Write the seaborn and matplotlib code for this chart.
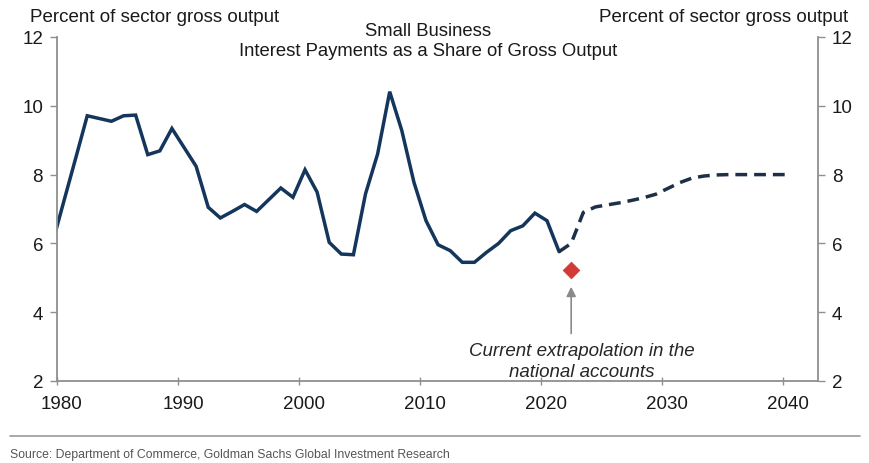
import matplotlib
matplotlib.use("Agg")
import matplotlib.pyplot as plt
from matplotlib.lines import Line2D
from matplotlib.transforms import ScaledTranslation
import seaborn as sns
import pandas as pd

sns.set_style("white")
plt.rcParams["font.family"] = ["Liberation Sans", "DejaVu Sans"]

# ---- data (annual, plotted at mid-year) ----
hist_years = list(range(1979, 2022))
hist_values = [5.85, 7.14, 8.42, 9.71, 9.63, 9.55, 9.71, 9.73, 8.58, 8.69,
               9.34, 8.79, 8.24, 7.05, 6.74, 6.93, 7.13, 6.93, 7.27, 7.61,
               7.34, 8.14, 7.49, 6.03, 5.69, 5.67, 7.44, 8.60, 10.41, 9.28,
               7.78, 6.66, 5.96, 5.79, 5.45, 5.45, 5.74, 6.00, 6.37, 6.51,
               6.88, 6.66, 5.76]
proj_years = list(range(2021, 2041))
proj_values = [5.76, 6.00, 6.90, 7.06, 7.12, 7.18, 7.25, 7.33, 7.43, 7.60,
               7.77, 7.90, 7.96, 7.99, 8.00, 8.00, 8.00, 8.00, 8.00, 8.00]
nipa_years = [2022]
nipa_values = [5.24]

x_ticks = [1980, 1990, 2000, 2010, 2020, 2030, 2040]
y_ticks = [2, 4, 6, 8, 10, 12]

title_lines = ["Small Business", "Interest Payments as a Share of Gross Output"]
axis_label = "Percent of sector gross output"
annotation = "Current extrapolation in the\nnational accounts"
source = "Source: Department of Commerce, Goldman Sachs Global Investment Research"

NAVY = "#15365c"
DASH = "#1e3048"
RED = "#d23a36"
GRAY = "#8f8f8f"

W, H = 869, 464
fig = plt.figure(figsize=(W / 100, H / 100), dpi=100)
L, R, T, B = 57, 818, 38, 382
ax = fig.add_axes([L / W, 1 - B / H, (R - L) / W, (B - T) / H])

df_hist = pd.DataFrame({"year": [y + 0.5 for y in hist_years], "value": hist_values})
df_proj = pd.DataFrame({"year": [y + 0.5 for y in proj_years], "value": proj_values})
df_nipa = pd.DataFrame({"year": [y + 0.5 for y in nipa_years], "value": nipa_values})

sns.lineplot(data=df_hist, x="year", y="value", ax=ax, color=NAVY, lw=2.5,
             solid_joinstyle="miter")
sns.lineplot(data=df_proj, x="year", y="value", ax=ax, color=DASH, lw=2.5)
ax.lines[-1].set_dashes([3.4, 2.0])
sns.scatterplot(data=df_nipa, x="year", y="value", ax=ax, color=RED, marker="D",
                s=70, edgecolor=RED, zorder=5)

ax.set_xlim(1980, 2042.9)
ax.set_ylim(2, 12)
ax.set_xticks(x_ticks)
ax.set_yticks(y_ticks)
ax.set_xlabel("")
ax.set_ylabel("")

for side in ["left", "right", "bottom"]:
    ax.spines[side].set_visible(True)
    ax.spines[side].set_color(GRAY)
    ax.spines[side].set_linewidth(1.3)
ax.spines["top"].set_visible(False)

ax.tick_params(axis="y", left=True, right=True, labelleft=True, labelright=True,
               direction="out", length=5, width=1, color=GRAY, labelsize=13.5,
               labelcolor="#1a1a1a", pad=5)
ax.tick_params(axis="x", bottom=True, direction="inout", length=6, width=1,
               color=GRAY, labelsize=13.5, labelcolor="#1a1a1a", pad=7)

# x tick labels sit slightly right of their ticks in the reference
offset = ScaledTranslation(5 / 100, 0, fig.dpi_scale_trans)
for lab in ax.get_xticklabels():
    lab.set_transform(lab.get_transform() + offset)

# annotation arrow + text
ax.annotate("", xy=(nipa_years[0] + 0.5, 4.82), xytext=(nipa_years[0] + 0.5, 3.3),
            arrowprops=dict(arrowstyle="-|>", color="#8a8a8a", lw=1.2,
                            mutation_scale=14))
ax.text(2023.4, 2.57, annotation, ha="center", va="center", style="italic",
        fontsize=13.5, color="#262626", linespacing=1.3)

# titles and axis labels
fig.text(428 / W, 1 - 31 / H, title_lines[0], ha="center", va="center",
         fontsize=13.3, color="#1a1a1a")
fig.text(428 / W, 1 - 52 / H, title_lines[1], ha="center", va="center",
         fontsize=13.3, color="#1a1a1a")
fig.text(30 / W, 1 - 17 / H, axis_label, ha="left", va="center",
         fontsize=13.5, color="#1a1a1a")
fig.text(848 / W, 1 - 17 / H, axis_label, ha="right", va="center",
         fontsize=13.5, color="#1a1a1a")

# source line
fig.add_artist(Line2D([10 / W, 860 / W], [1 - 437 / H] * 2, color="#9a9a9a", lw=1.2))
fig.text(10 / W, 1 - 455 / H, source, ha="left", va="center", fontsize=8.8,
         color="#555555", stretch="condensed")

fig.savefig("out.png", dpi=100, facecolor="white")
